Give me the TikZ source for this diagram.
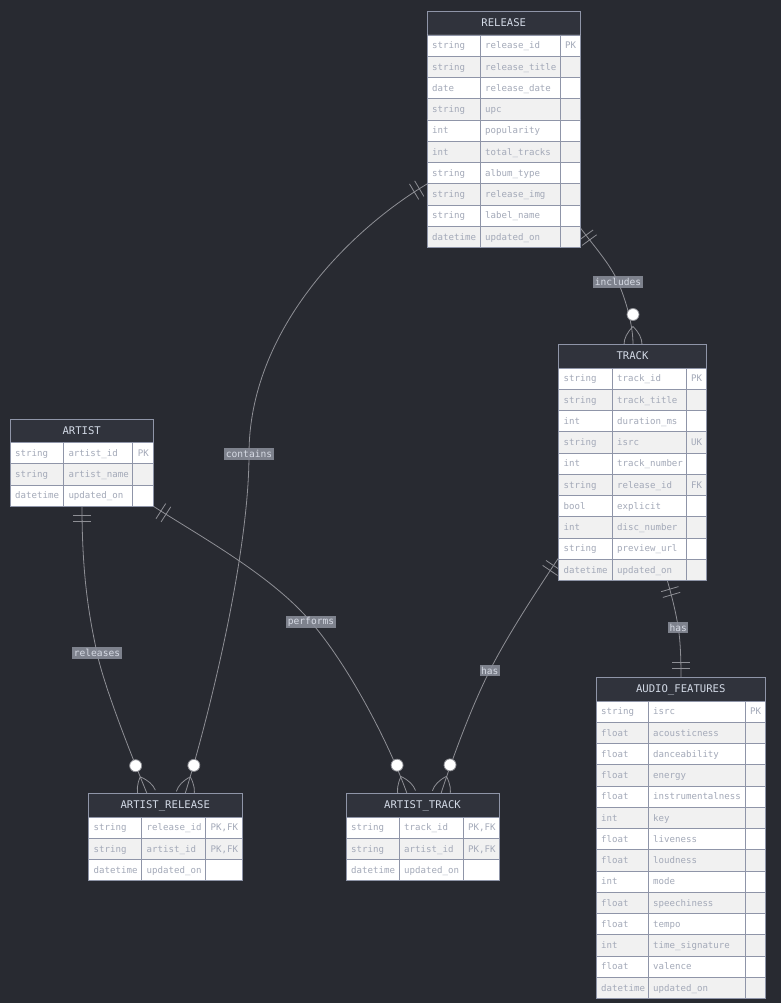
\documentclass[tikz,border=0pt]{standalone}
\usepackage{fontspec}
\setmonofont{DejaVu Sans Mono}

\definecolor{bg}{HTML}{282A31}
\definecolor{headfill}{HTML}{30333C}
\definecolor{tableline}{HTML}{8F95A8}
\definecolor{rowa}{HTML}{FFFFFF}
\definecolor{rowb}{HTML}{F1F1F1}
\definecolor{celltext}{HTML}{A3A9B8}
\definecolor{titletext}{HTML}{D3DAE6}
\definecolor{relline}{HTML}{8E8F95}
\definecolor{lblfill}{HTML}{888C98}
\definecolor{lbltext}{HTML}{D6DAE4}

\tikzset{
  headbox/.style={fill=headfill, draw=tableline, line width=0.9pt},
  cellbox/.style={draw=tableline, line width=0.9pt},
  celltxt/.style={anchor=base west, inner sep=0pt, text=celltext,
    font=\ttfamily\fontsize{9.1}{10}\selectfont},
  titletxt/.style={anchor=base, inner sep=0pt, text=titletext,
    font=\ttfamily\fontsize{10.6}{12}\selectfont},
  rel/.style={draw=relline, line width=0.8pt},
  relmark/.style={draw=relline, line width=0.8pt, fill=white},
  lbl/.style={fill=lblfill, fill opacity=0.9, text opacity=1, text=lbltext,
    inner xsep=1.5pt, inner ysep=1.8pt,
    font=\ttfamily\fontsize{9.6}{10}\selectfont},
}

% entity table: #1 name, #2 left, #3 first split, #4 second split,
% #5 right, #6 top of the first row, #7 title, #8 rows type/name/key
\newcommand\erentity[8]{%
  \path[headbox] (#2,#6-23.5) rectangle (#5,#6);
  \node[titletxt] (#1) at ({(#2+#5)/2},#6-8.3) {#7};
  \foreach \ty/\nm/\ky [count=\i] in {#8} {%
    \pgfmathsetmacro\ya{#6+(\i-1)*21.25}%
    \pgfmathsetmacro\yb{\ya+21.25}%
    \pgfmathsetmacro\ym{\ya+13.8}%
    \ifodd\i \def\rf{rowa}\else \def\rf{rowb}\fi
    \path[cellbox, fill=\rf] (#2,\ya) rectangle (#3,\yb)
      (#3,\ya) rectangle (#4,\yb) (#4,\ya) rectangle (#5,\yb);
    \node[celltxt] (#1-\i-type) at (#2+5,\ym) {\ty};
    \node[celltxt] (#1-\i-name) at (#3+5,\ym) {\nm};
    \node[celltxt] (#1-\i-key) at (#4+5,\ym) {\ky};
  }%
}

% "exactly one" bars; #2 points away from the entity
\newcommand\erone[2]{%
  \begin{scope}[shift={(#1)}, rotate=#2]
    \draw[rel] (9,-9) -- (9,9) (15,-9) -- (15,9);
  \end{scope}}

% "zero or more" circle and crow's foot; #2 points away from the entity
\newcommand\ermany[2]{%
  \begin{scope}[shift={(#1)}, rotate=#2]
    \draw[rel] (18,0) .. controls (12,6) and (6,9) .. (0,9)
               (18,0) .. controls (12,-6) and (6,-9) .. (0,-9);
    \draw[relmark] (30,0) circle[radius=6];
  \end{scope}}

\begin{document}
\catcode`\_=12
\begin{tikzpicture}[x=1pt,y=-1pt]
\useasboundingbox (0,0) rectangle (781,1003);
\fill[bg] (0,0) rectangle (781,1003);

% relationship end points and label positions
\coordinate (inc-s) at (580.5,228);
\coordinate (inc-m) at (618,282);
\coordinate (inc-e) at (633,344.5);
\coordinate (con-s) at (427,184);
\coordinate (con-m) at (249,454);
\coordinate (con-e) at (185,794);
\coordinate (rls-s) at (82,506.25);
\coordinate (rls-m) at (97,653);
\coordinate (rls-e) at (147,793.5);
\coordinate (prf-s) at (153.3,506.25);
\coordinate (prf-m) at (311,622);
\coordinate (prf-e) at (407,793.5);
\coordinate (hat-s) at (558.5,558);
\coordinate (hat-m) at (489.7,670.7);
\coordinate (hat-e) at (441,793.5);
\coordinate (haf-s) at (667.3,580.5);
\coordinate (haf-m) at (678.3,627.7);
\coordinate (haf-e) at (681,677.5);

% connectors
\draw[rel] (inc-s) .. controls (592.3,244.2) and (610,263.6) .. (inc-m)
  .. controls (626,300.4) and (633,325) .. (inc-e);
\draw[rel] (con-s) .. controls (350,230) and (249,330) .. (con-m)
  .. controls (249,560) and (205,730) .. (con-e);
\draw[rel] (rls-s) .. controls (82,580) and (90,620) .. (rls-m)
  .. controls (104,686) and (130,752) .. (rls-e);
\draw[rel] (prf-s) .. controls (203,538) and (272,576) .. (prf-m)
  .. controls (352,670) and (391.5,749.6) .. (prf-e);
\draw[rel] (hat-s) .. controls (536.6,591) and (507.7,635) .. (hat-m)
  .. controls (471.7,706.3) and (453,756.5) .. (hat-e);
\draw[rel] (haf-s) .. controls (671.5,595) and (676,612.8) .. (haf-m)
  .. controls (680.5,642.6) and (681,660) .. (haf-e);

% cardinality marks
\erone{inc-s}{-53.9}   \ermany{inc-e}{90}
\erone{con-s}{-149.3}  \ermany{con-e}{72.8}
\erone{rls-s}{-90}     \ermany{rls-e}{112.2}
\erone{prf-s}{-32.7}   \ermany{prf-e}{109.3}
\erone{hat-s}{-124}    \ermany{hat-e}{72.5}
\erone{haf-s}{-73.7}   \erone{haf-e}{90}

% relationship labels
\node[lbl] (inc-lbl) at (inc-m) {includes};
\node[lbl] (con-lbl) at (con-m) {contains};
\node[lbl] (rls-lbl) at (rls-m) {releases};
\node[lbl] (prf-lbl) at (prf-m) {performs};
\node[lbl] (hat-lbl) at (hat-m) {has};
\node[lbl] (haf-lbl) at (haf-m) {has};

% entities
\erentity{release}{427}{480}{560}{580.5}{35}{RELEASE}{
  string/release_id/PK, string/release_title/{}, date/release_date/{},
  string/upc/{}, int/popularity/{}, int/total_tracks/{},
  string/album_type/{}, string/release_img/{}, string/label_name/{},
  datetime/updated_on/{}}
\erentity{track}{558.5}{612}{686}{706.5}{368}{TRACK}{
  string/track_id/PK, string/track_title/{}, int/duration_ms/{},
  string/isrc/UK, int/track_number/{}, string/release_id/FK,
  bool/explicit/{}, int/disc_number/{}, string/preview_url/{},
  datetime/updated_on/{}}
\erentity{artist}{10}{63.3}{132.7}{153.3}{442.5}{ARTIST}{
  string/artist_id/PK, string/artist_name/{}, datetime/updated_on/{}}
\erentity{artistrelease}{88.5}{141.5}{205.5}{242}{817}{ARTIST_RELEASE}{
  string/release_id/{PK,FK}, string/artist_id/{PK,FK},
  datetime/updated_on/{}}
\erentity{artisttrack}{346}{399}{463}{499}{817}{ARTIST_TRACK}{
  string/track_id/{PK,FK}, string/artist_id/{PK,FK},
  datetime/updated_on/{}}
\erentity{audio}{596}{648}{745}{765.5}{701}{AUDIO_FEATURES}{
  string/isrc/PK, float/acousticness/{}, float/danceability/{},
  float/energy/{}, float/instrumentalness/{}, int/key/{},
  float/liveness/{}, float/loudness/{}, int/mode/{},
  float/speechiness/{}, float/tempo/{}, int/time_signature/{},
  float/valence/{}, datetime/updated_on/{}}
\end{tikzpicture}
\end{document}
